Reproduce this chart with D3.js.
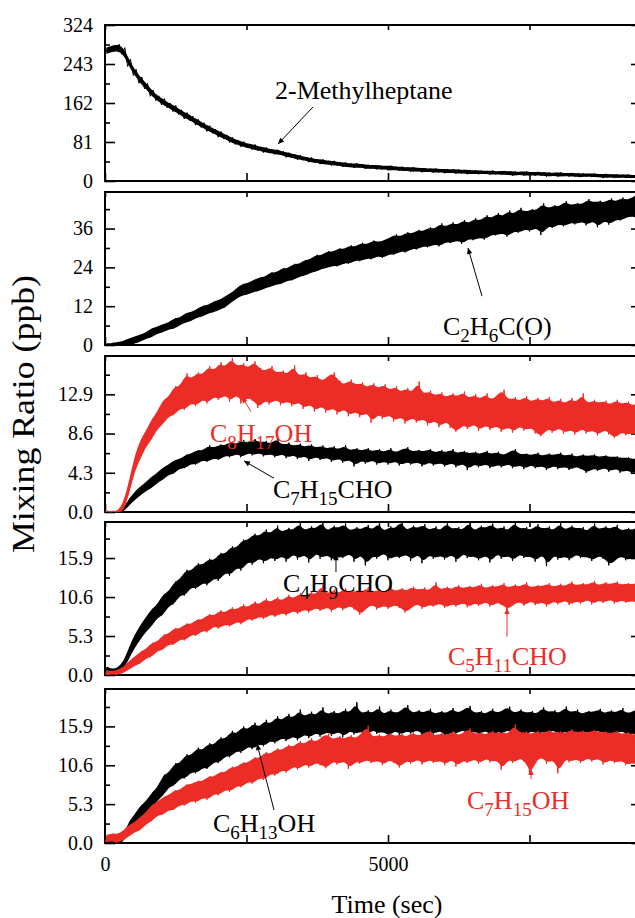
<!DOCTYPE html>
<html>
<head>
<meta charset="utf-8">
<script src="https://cdn.jsdelivr.net/npm/d3@7"></script>
<style>
  html, body { margin: 0; padding: 0; background: #fff; overflow: hidden; }
  svg { display: block; font-family: "Liberation Serif", "Times New Roman", serif; }
</style>
</head>
<body>
<svg id="chart" width="660" height="918"></svg>
<script>
// ---------- data ----------
// Each trace is stored as [min, max] pairs per 100 s bin (min/max decimation of the raw record).
const binStart = d3.range(0, 9500, 100);   // bin start times, s
const binHalf = 50;                        // max sample is placed mid-bin
const timeRange = [0, 9470];               // recorded time window, s

const xTickValues = [0, 2500, 5000, 7500];
const xTickLabels = ["0", "", "5000", ""];

const methylheptane = [
  [264,277],[268,281],[270,284],[263,277],[238,253],[219,232],[203,216],[191,203],[176,189],[167,177],
  [158,171],[152,162],[144,157],[138,148],[129,142],[125,135],[116,128],[111,121],[103,115],[99,108],
  [91,103],[87,96],[80,91],[76,85],[71,82],[69,77],[65,76],[63,71],[59,70],[58,66],
  [55,65],[54,62],[49,59],[48,56],[44,54],[43,50],[39,49],[38,45],[35,45],[35,42],
  [32,42],[32,39],[29,39],[29,36],[27,37],[28,35],[25,34],[26,33],[24,33],[24,31],
  [22,32],[23,30],[21,30],[21,28],[19,29],[20,27],[18,27],[19,26],[17,26],[18,25],
  [16,25],[17,24],[15,24],[16,23],[14,23],[15,22],[14,22],[15,21],[13,22],[14,20],
  [13,21],[13,20],[11,20],[13,19],[11,20],[12,18],[11,19],[11,18],[9,18],[11,17],
  [9,18],[10,16],[9,17],[9,16],[8,16],[9,15],[8,16],[8,14],[6,15],[8,14],
  [6,14],[7,13],[6,14],[6,12],[6,13]
];

const c2h6co = [
  [0,0.4],[0,0.6],[0,0.9],[0,1.3],[0.1,2.0],[0.4,2.6],[1.1,3.2],[1.9,3.9],[2.4,5.2],[3.5,5.7],
  [3.9,6.4],[4.9,7.0],[5.0,8.3],[6.2,8.4],[6.9,9.9],[7.4,10.2],[8.5,11.1],[8.8,12.2],[9.8,12.3],[10.1,13.6],
  [11.0,13.9],[11.5,15.1],[13.1,16.0],[14.4,17.6],[15.3,18.9],[15.6,19.1],[16.4,20.1],[16.7,20.9],[17.6,21.0],[17.9,22.5],
  [18.7,22.4],[18.9,23.8],[19.9,23.6],[20.0,25.1],[21.1,24.9],[21.4,26.3],[22.3,26.5],[22.6,27.9],[23.5,27.6],[23.8,29.0],
  [24.5,28.7],[24.3,29.9],[25.3,29.6],[25.1,30.8],[26.2,30.3],[25.9,31.6],[26.8,31.0],[26.5,32.3],[27.6,31.8],[26.9,32.4],
  [28.1,33.1],[27.9,34.2],[29.0,33.4],[28.6,34.9],[29.8,34.3],[29.5,35.6],[30.6,35.1],[30.2,36.4],[31.2,35.8],[30.5,37.6],
  [31.9,36.4],[31.5,37.9],[32.4,37.0],[31.3,38.6],[32.9,37.5],[32.4,39.2],[33.3,38.2],[32.6,40.1],[34.1,39.0],[33.9,40.8],
  [34.6,39.6],[33.5,41.6],[35.2,40.3],[34.7,42.4],[35.9,41.0],[35.1,42.0],[36.4,41.5],[34.0,43.8],[36.8,42.1],[36.2,43.2],
  [37.4,42.6],[36.7,44.5],[37.9,43.1],[37.3,43.9],[38.2,43.4],[37.0,45.1],[38.5,44.0],[36.4,44.6],[38.6,43.9],[37.2,45.3],
  [38.8,44.2],[38.5,45.6],[39.6,44.7],[39.8,46.0],[39.1,45.4]
];

const c8h17oh = [
  [0,0.1],[0,0.1],[0,0.1],[0.1,1.0],[1.9,3.4],[4.5,6.2],[5.8,7.9],[7.2,8.9],[7.9,10.2],[9.1,11.0],
  [9.6,12.3],[10.5,12.6],[10.6,13.8],[11.4,13.7],[11.2,15.2],[12.0,14.5],[11.6,15.3],[12.4,15.0],[11.9,16.0],[12.7,15.4],
  [12.3,16.4],[12.9,15.8],[12.1,16.9],[13.0,15.9],[11.9,16.3],[12.6,15.7],[12.2,16.5],[11.4,15.8],[12.3,15.4],[11.8,16.0],
  [12.4,15.2],[11.7,15.5],[12.2,15.0],[11.6,16.1],[12.1,14.8],[11.3,15.3],[11.9,14.6],[11.0,15.0],[11.7,14.3],[10.9,14.8],
  [11.5,15.3],[10.7,14.4],[11.4,13.9],[10.5,14.5],[11.1,13.9],[10.4,14.2],[11.0,13.6],[9.8,14.1],[10.8,13.5],[10.2,14.0],
  [10.7,13.3],[9.9,13.8],[10.5,13.1],[9.7,13.6],[10.4,13.0],[9.8,14.3],[10.3,12.8],[9.5,13.3],[10.1,12.7],[9.3,13.1],
  [10.0,12.5],[9.2,13.0],[8.8,12.6],[9.6,13.2],[9.1,12.4],[9.7,12.9],[8.9,12.3],[9.6,13.0],[9.0,12.2],[9.5,12.8],
  [8.8,13.4],[9.4,12.2],[8.7,12.6],[9.5,12.1],[8.9,12.7],[9.3,12.0],[8.6,12.5],[8.3,12.1],[9.2,12.6],[8.7,11.9],
  [9.3,12.4],[8.6,11.8],[9.1,12.5],[8.5,11.9],[9.2,13.0],[8.6,11.8],[9.0,12.3],[8.4,11.9],[9.1,12.2],[8.5,11.7],
  [8.1,12.3],[8.8,11.8],[8.4,12.1],[8.7,11.6],[8.3,12.0]
];

const c7h15cho = [
  [0,0.05],[0,0.05],[0,0.05],[0,0.4],[0.7,1.5],[1.3,2.2],[1.8,2.8],[2.3,3.3],[2.6,3.9],[3.2,4.3],
  [3.5,4.9],[4.1,5.2],[4.2,5.7],[4.8,5.8],[4.8,6.3],[5.3,6.4],[5.2,6.8],[5.7,6.7],[5.5,7.3],[5.9,7.0],
  [5.7,7.4],[6.2,7.3],[6.0,7.7],[6.4,7.4],[6.0,7.9],[6.5,7.5],[6.2,8.0],[6.5,7.6],[6.1,7.8],[6.4,7.4],
  [6.0,8.1],[6.4,7.3],[5.9,7.6],[6.3,7.2],[5.8,7.5],[6.2,7.1],[5.6,7.4],[6.1,7.0],[5.7,7.3],[6.0,6.9],
  [5.5,7.2],[5.9,6.8],[5.4,7.3],[5.8,6.7],[5.0,7.0],[5.7,6.7],[5.3,7.0],[5.7,6.6],[5.2,6.9],[5.6,6.5],
  [5.2,7.0],[5.6,6.5],[5.1,6.8],[5.5,7.1],[5.2,6.6],[5.5,6.8],[5.0,6.6],[5.5,6.9],[5.1,6.5],[5.4,6.8],
  [5.0,6.5],[5.4,6.9],[4.9,6.4],[5.4,6.7],[4.6,6.4],[5.3,6.6],[4.9,6.3],[5.3,6.7],[4.8,6.3],[5.2,6.6],
  [4.9,6.2],[5.3,6.5],[4.8,6.9],[5.2,6.3],[4.7,6.4],[5.2,6.2],[4.8,6.5],[5.1,6.1],[4.6,6.4],[5.1,6.2],
  [4.7,6.5],[5.0,6.1],[4.6,6.4],[5.0,6.0],[4.7,6.3],[4.3,6.1],[4.8,6.3],[4.5,6.0],[4.9,6.2],[4.4,6.0],
  [4.8,6.1],[4.3,5.9],[4.6,6.0],[4.2,5.8],[4.5,5.9]
];

const c4h9cho = [
  [0.4,1.1],[0.3,0.8],[0.4,1.0],[0.7,1.8],[2.2,3.8],[3.7,5.5],[4.8,6.8],[5.9,7.9],[6.6,9.0],[7.8,9.6],
  [8.1,11.0],[9.4,11.3],[9.6,12.7],[10.9,13.0],[10.8,14.3],[12.0,14.1],[11.7,15.2],[12.6,14.9],[12.2,15.8],[13.2,15.5],
  [12.8,16.6],[14.0,16.4],[13.5,17.5],[14.7,17.2],[14.2,18.4],[15.5,18.3],[15.0,19.2],[16.0,18.8],[15.2,19.8],[16.1,19.1],
  [15.5,20.3],[16.3,19.3],[15.4,20.0],[16.6,19.6],[15.7,20.7],[16.5,19.5],[15.3,20.2],[16.7,19.8],[15.8,20.9],[16.4,19.4],
  [15.6,20.3],[16.1,19.9],[15.9,20.6],[16.6,19.5],[15.4,20.1],[16.5,19.7],[14.9,20.4],[16.3,19.6],[15.8,20.8],[16.7,19.4],
  [15.6,20.2],[16.2,19.8],[15.9,21.0],[16.5,19.5],[15.5,20.3],[16.6,19.9],[15.2,20.5],[16.4,19.6],[15.8,20.2],[16.3,19.5],
  [15.7,20.7],[16.5,19.8],[15.4,20.1],[16.6,19.6],[15.9,20.9],[16.2,19.4],[15.6,20.3],[16.4,19.9],[15.3,20.6],[16.6,19.7],
  [15.8,20.2],[16.3,19.5],[15.5,20.8],[16.5,19.8],[15.9,20.1],[16.2,19.6],[15.4,20.5],[16.6,19.8],[14.8,20.2],[16.4,19.5],
  [15.7,20.7],[16.2,19.6],[15.6,20.3],[16.5,19.9],[15.9,20.1],[16.1,19.4],[15.5,20.6],[16.3,19.7],[15.8,20.2],[14.9,19.8],
  [15.7,20.4],[16.2,19.5],[15.6,20.0],[15.9,19.6],[15.7,20.3]
];

const c5h11cho = [
  [0.0,0.6],[0.1,0.5],[0.0,0.7],[0.3,1.1],[0.7,1.9],[1.3,2.5],[1.5,3.2],[2.3,3.5],[2.4,4.4],[3.3,4.5],
  [3.4,5.5],[4.2,5.6],[4.1,6.4],[4.9,6.3],[4.7,7.0],[5.5,6.9],[5.3,7.6],[6.1,7.5],[5.8,8.3],[6.7,8.0],
  [6.3,8.8],[6.9,8.4],[6.6,9.2],[7.3,8.8],[6.9,9.6],[7.7,9.1],[7.4,10.0],[8.0,9.5],[7.6,10.4],[8.3,9.8],
  [7.9,10.6],[8.5,10.0],[8.1,10.9],[8.8,10.3],[8.3,11.1],[9.0,10.6],[8.5,11.3],[9.2,10.8],[8.7,12.3],[9.3,10.9],
  [8.6,11.6],[9.4,11.0],[8.8,11.8],[9.5,11.1],[8.9,11.5],[8.2,11.2],[9.1,11.9],[9.6,11.2],[8.9,11.7],[9.5,11.0],
  [9.0,12.1],[9.6,11.3],[9.1,11.8],[8.5,11.4],[9.2,12.0],[9.7,11.5],[9.0,11.9],[9.6,11.3],[9.3,12.6],[9.8,11.5],
  [9.1,12.0],[9.7,11.6],[9.3,12.2],[9.9,11.7],[9.2,12.1],[9.8,11.8],[9.4,12.4],[10.0,11.7],[9.3,12.2],[9.9,11.9],
  [9.5,12.5],[8.9,11.8],[9.6,12.3],[10.0,11.9],[9.4,12.6],[10.1,11.8],[9.5,12.2],[10.0,12.0],[9.3,12.5],[10.1,11.9],
  [9.6,12.4],[10.2,12.0],[9.5,12.7],[10.1,12.1],[9.7,12.5],[10.3,12.2],[9.6,12.8],[10.2,12.1],[9.8,12.6],[10.3,12.3],
  [9.7,12.7],[10.2,12.2],[9.8,12.5],[10.1,12.3],[9.7,12.6]
];

const c6h13oh = [
  [0.1,0.8],[0.1,0.5],[0.0,0.6],[0.2,1.1],[1.3,3.0],[2.4,3.9],[2.9,5.1],[3.9,5.7],[4.5,6.9],[5.8,7.5],
  [6.4,9.3],[7.6,9.5],[7.8,10.9],[8.8,10.8],[8.8,12.1],[9.7,11.9],[9.5,13.0],[10.3,12.6],[10.1,13.6],[11.1,13.3],
  [10.9,14.4],[11.9,14.1],[11.7,15.3],[12.6,14.8],[12.3,15.9],[13.2,15.4],[12.8,16.4],[13.5,15.7],[13.2,16.8],[14.0,16.1],
  [13.6,17.3],[14.4,16.6],[13.9,17.6],[14.6,16.9],[14.0,18.2],[14.9,17.1],[14.3,17.9],[15.1,17.3],[14.5,18.5],[15.2,17.4],
  [14.6,18.0],[15.3,17.5],[14.4,18.3],[15.4,17.6],[14.8,19.2],[15.3,17.5],[14.6,18.1],[15.5,17.6],[14.9,18.6],[15.2,17.4],
  [14.5,18.2],[15.4,17.7],[14.7,18.0],[15.3,18.8],[14.9,17.6],[15.5,18.1],[14.6,17.7],[15.3,18.3],[14.8,17.5],[15.4,18.0],
  [14.5,17.6],[15.2,18.4],[14.9,17.7],[15.5,18.1],[14.7,18.7],[15.3,17.6],[14.8,18.0],[15.4,17.5],[14.6,18.3],[15.2,17.7],
  [14.9,18.1],[15.5,18.6],[14.7,17.6],[15.3,18.2],[14.5,17.7],[15.4,18.0],[14.8,17.5],[15.2,18.5],[14.9,17.8],[15.5,18.1],
  [14.6,17.6],[15.3,18.6],[14.8,17.7],[15.4,18.2],[14.7,17.5],[15.2,18.0],[14.9,17.8],[15.5,18.3],[14.4,17.6],[15.1,18.1],
  [14.8,17.7],[15.4,18.4],[14.7,17.6],[15.0,18.0],[14.6,18.2]
];

const c7h15oh = [
  [0.1,1.1],[0.3,1.3],[0.0,1.2],[0.4,1.7],[0.9,2.5],[1.5,2.8],[1.7,3.6],[2.6,4.2],[2.9,5.2],[3.8,5.6],
  [3.8,6.3],[4.5,6.5],[4.5,7.2],[5.2,7.2],[5.1,8.0],[5.8,8.0],[5.5,8.5],[6.2,8.4],[5.9,9.1],[6.7,9.0],
  [6.5,9.7],[7.3,9.6],[7.0,10.4],[7.8,10.3],[7.6,11.0],[8.4,10.9],[8.1,11.7],[8.9,11.5],[8.6,12.4],[9.5,12.1],
  [9.2,12.9],[10.0,12.6],[9.6,13.4],[10.5,13.0],[10.0,13.9],[10.8,13.4],[10.3,14.3],[11.0,13.7],[10.6,14.5],[10.2,14.9],
  [11.2,14.0],[10.7,14.6],[11.3,14.1],[10.1,14.7],[11.2,14.2],[10.8,14.9],[11.4,16.0],[10.9,14.3],[11.3,14.8],[10.6,14.4],
  [11.4,15.0],[10.9,14.5],[10.3,14.9],[11.3,14.4],[10.8,15.1],[11.5,14.6],[10.7,14.9],[11.4,15.4],[10.9,14.5],[11.3,15.0],
  [10.6,14.6],[11.5,15.2],[10.4,14.7],[11.3,15.0],[10.9,15.6],[11.5,14.8],[10.8,15.1],[11.6,14.7],[11.0,15.3],[11.4,14.9],
  [10.0,15.1],[11.5,14.8],[10.9,16.2],[11.6,14.9],[11.1,15.2],[9.4,14.8],[11.3,15.3],[11.7,14.9],[10.8,15.4],[11.5,15.0],
  [9.5,15.2],[11.6,14.9],[11.0,15.5],[11.5,15.0],[10.9,15.3],[11.7,15.0],[11.1,15.4],[11.6,15.1],[10.7,15.2],[11.4,14.9],
  [10.9,15.3],[11.3,14.8],[10.6,15.1],[11.0,14.7],[10.5,15.0]
];

// ---------- panels ----------
const panelDomains = [[0, 324], [0, 47.3], [0, 17.1], [0, 20.8], [0, 21.0]];
const panelMajorTicks = [
  [0, 81, 162, 243, 324],
  [0, 12, 24, 36],
  [0, 4.3, 8.6, 12.9],
  [0, 5.3, 10.6, 15.9],
  [0, 5.3, 10.6, 15.9]
];
const panelMinorTicks = [
  [40.5, 121.5, 202.5, 283.5],
  [6, 18, 30, 42],
  [2.15, 6.45, 10.75, 15.05],
  [2.65, 7.95, 13.25, 18.55],
  [2.65, 7.95, 13.25, 18.55]
];
const panelDecimals = [0, 0, 1, 1, 1];

// screen layout of the stacked panels
const plotLeft = 105, plotRight = 641;
const panelFrames = [
  { top: 25, bottom: 181 },
  { top: 192, bottom: 345 },
  { top: 356, bottom: 512 },
  { top: 522, bottom: 675 },
  { top: 689, bottom: 843 }
];

const RED = "#ec2d27";
const BLACK = "#000000";

// draw order within each panel: black first, red on top
const traces = [
  { panel: 0, color: BLACK, values: methylheptane },
  { panel: 1, color: BLACK, values: c2h6co },
  { panel: 2, color: BLACK, values: c7h15cho },
  { panel: 2, color: RED,   values: c8h17oh },
  { panel: 3, color: BLACK, values: c4h9cho },
  { panel: 3, color: RED,   values: c5h11cho },
  { panel: 4, color: BLACK, values: c6h13oh },
  { panel: 4, color: RED,   values: c7h15oh }
];

// labels: _{..} marks a subscript; anchors are in data units (time s, ppb)
const annotations = [
  { panel: 0, color: BLACK, text: "2-Methylheptane", at: [3004, 170.3], from: [3675, 153.7], to: [3057, 76.8] },
  { panel: 1, color: BLACK, text: "C_{2}H_{6}C(O)", at: [5972, 3.1], from: [6661, 15.1], to: [6413, 30.0] },
  { panel: 2, color: RED,   text: "C_{8}H_{17}OH", at: [1855, 7.7], from: [2580, 11.0], to: [2420, 12.6] },
  { panel: 2, color: BLACK, text: "C_{7}H_{15}CHO", at: [2968, 1.5], from: [2986, 3.7], to: [2456, 5.6] },
  { panel: 3, color: BLACK, text: "C_{4}H_{9}CHO", at: [3145, 11.3], from: [4081, 14.0], to: [4081, 16.4] },
  { panel: 3, color: RED,   text: "C_{5}H_{11}CHO", at: [6060, 1.4], from: [7102, 5.2], to: [7102, 9.1] },
  { panel: 4, color: BLACK, text: "C_{6}H_{13}OH", at: [1908, 1.5], from: [2986, 4.5], to: [2686, 13.5] },
  { panel: 4, color: RED,   text: "C_{7}H_{15}OH", at: [6396, 4.6], from: [7527, 8.7], to: [7527, 10.1] }
];

// ---------- drawing ----------
const svg = d3.select("#chart");
const defs = svg.append("defs");

const x = d3.scaleLinear().domain(timeRange).range([plotLeft, plotRight]);

const yScales = panelFrames.map((f, k) =>
  d3.scaleLinear().domain(panelDomains[k]).range([f.bottom, f.top])
);

[BLACK, RED].forEach((c, i) => {
  defs.append("marker")
    .attr("id", "arrow" + i)
    .attr("viewBox", "0 0 10 10")
    .attr("refX", 10).attr("refY", 5)
    .attr("markerWidth", 9).attr("markerHeight", 6)
    .attr("markerUnits", "userSpaceOnUse")
    .attr("orient", "auto")
    .append("path").attr("d", "M0,0.5 L10,5 L0,9.5 Z").attr("fill", c);
});

function styleAxis(g) {
  g.attr("font-family", null).attr("font-size", 20);
  g.select(".domain").remove();
  g.selectAll(".tick line").attr("stroke", "#000").attr("stroke-width", 1.6);
  g.selectAll(".tick text").attr("fill", "#000");
}

panelFrames.forEach((f, k) => {
  const y = yScales[k];
  const fmt = d3.format("." + panelDecimals[k] + "f");

  // clip slightly below the baseline so traces sitting at zero stay visible over the axis
  defs.append("clipPath").attr("id", "clip" + k)
    .append("rect")
    .attr("x", plotLeft).attr("y", f.top)
    .attr("width", plotRight - plotLeft).attr("height", f.bottom - f.top + 1.5);

  svg.append("rect")
    .attr("x", plotLeft).attr("y", f.top)
    .attr("width", plotRight - plotLeft).attr("height", f.bottom - f.top)
    .attr("fill", "none").attr("stroke", "#000").attr("stroke-width", 2);

  // left axis: labelled major ticks, short minor ticks, both pointing inward
  svg.append("g").attr("transform", `translate(${plotLeft},0)`)
    .call(d3.axisLeft(y).tickValues(panelMajorTicks[k]).tickSize(-10).tickPadding(12).tickFormat(fmt))
    .call(styleAxis);
  svg.append("g").attr("transform", `translate(${plotLeft},0)`)
    .call(d3.axisLeft(y).tickValues(panelMinorTicks[k]).tickSize(-5).tickFormat(""))
    .call(styleAxis);

  // right axis mirrors the left ticks
  svg.append("g").attr("transform", `translate(${plotRight},0)`)
    .call(d3.axisRight(y).tickValues(panelMajorTicks[k]).tickSize(-10).tickFormat(""))
    .call(styleAxis);
  svg.append("g").attr("transform", `translate(${plotRight},0)`)
    .call(d3.axisRight(y).tickValues(panelMinorTicks[k]).tickSize(-5).tickFormat(""))
    .call(styleAxis);

  // top and bottom time ticks
  svg.append("g").attr("transform", `translate(0,${f.top})`)
    .call(d3.axisTop(x).tickValues(xTickValues).tickSize(-5).tickFormat(""))
    .call(styleAxis);
  const last = k === panelFrames.length - 1;
  svg.append("g").attr("transform", `translate(0,${f.bottom})`)
    .call(d3.axisBottom(x).tickValues(xTickValues).tickSize(-8).tickPadding(14)
      .tickFormat((d, i) => last ? xTickLabels[i] : ""))
    .call(styleAxis);
});

// traces: a smoothed min/max core, with the raw min-max path on top so the spikes show
traces.forEach(tr => {
  const y = yScales[tr.panel];
  const rows = binStart.map((t, i) => ({ t, lo: tr.values[i][0], hi: tr.values[i][1] }));
  const g = svg.append("g").attr("clip-path", `url(#clip${tr.panel})`);

  g.append("path")
    .attr("d", d3.area()
      .curve(d3.curveBasis)
      .x(d => x(d.t + binHalf / 2))
      .y0(d => y(d.lo)).y1(d => y(d.hi))(rows))
    .attr("fill", tr.color);

  const pts = [];
  rows.forEach(d => { pts.push([d.t, d.lo]); pts.push([d.t + binHalf, d.hi]); });
  g.append("path")
    .attr("d", d3.line().x(d => x(d[0])).y(d => y(d[1]))(pts))
    .attr("fill", "none")
    .attr("stroke", tr.color)
    .attr("stroke-width", 1)
    .attr("stroke-linejoin", "miter");
});

// annotations
function writeLabel(textSel, label) {
  const parts = label.split(/(_\{[^}]*\})/).filter(s => s.length);
  let shifted = false;
  parts.forEach(p => {
    const m = p.match(/^_\{([^}]*)\}$/);
    const ts = textSel.append("tspan");
    if (m) {
      ts.text(m[1]).attr("font-size", 19).attr("dy", shifted ? 0 : 7);
      shifted = true;
    } else {
      ts.text(p).attr("dy", shifted ? -7 : 0);
      shifted = false;
    }
  });
}

annotations.forEach(a => {
  const y = yScales[a.panel];
  const markerId = a.color === RED ? "arrow1" : "arrow0";
  svg.append("line")
    .attr("x1", x(a.from[0])).attr("y1", y(a.from[1]))
    .attr("x2", x(a.to[0])).attr("y2", y(a.to[1]))
    .attr("stroke", a.color).attr("stroke-width", 1)
    .attr("marker-end", `url(#${markerId})`);
  const t = svg.append("text")
    .attr("x", x(a.at[0])).attr("y", y(a.at[1]))
    .attr("font-size", 26)
    .attr("fill", a.color);
  writeLabel(t, a.text);
});

// axis titles
svg.append("text")
  .attr("transform", "translate(34,414) rotate(-90)")
  .attr("text-anchor", "middle")
  .attr("font-size", 31)
  .attr("textLength", 278)
  .attr("lengthAdjust", "spacingAndGlyphs")
  .text("Mixing Ratio (ppb)");

svg.append("text")
  .attr("x", 387).attr("y", 913)
  .attr("text-anchor", "middle")
  .attr("font-size", 26)
  .text("Time (sec)");
</script>
</body>
</html>
